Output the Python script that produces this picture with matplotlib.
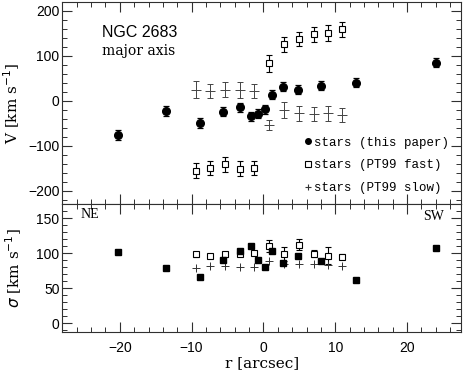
import matplotlib
matplotlib.use("Agg")
import matplotlib.pyplot as plt
from matplotlib.lines import Line2D
from matplotlib.ticker import MultipleLocator

# ---- data: velocity panel ----
r_this = [-20.2, -13.6, -8.8, -5.6, -3.2, -1.7, -0.7, 0.2, 1.2, 2.7, 4.75, 8.0, 12.9, 24.0]
v_this = [-77, -22, -49, -25, -15, -34, -29, -19, 13, 31, 24, 33, 40, 85]
ev_this = [11, 11, 11, 10, 10, 10, 10, 10, 10, 10, 10, 10, 10, 10]

r_pt = [-9.4, -7.4, -5.4, -3.3, -1.3, 0.8, 2.9, 5.0, 7.0, 9.0, 11.0]
v_fast = [-156, -150, -142, -151, -150, 84, 126, 137, 148, 151, 159]
ev_fast = [17, 16, 16, 16, 16, 19, 17, 16, 16, 17, 17]
v_slow = [25, 22, 25, 24, 22, -54, -21, -28, -29, -28, -32]
ev_slow = [18, 16, 16, 17, 16, 12, 18, 16, 16, 17, 16]

# ---- data: dispersion panel ----
s_this = [102, 79, 66, 90, 103, 110, 90, 80, 103, 86, 96, 89, 61, 107]
es_this = [3, 3, 3, 3, 3, 3, 3, 3, 3, 3, 3, 3, 3, 3]
s_fast = [98, 96, 98, 99, 100, 110, 99, 112, 99, 96, 95]
es_fast = [3, 3, 3, 3, 3, 8, 10, 8, 5, 12, 3]
s_slow = [79, 81, 81, 80, 80, 88, 84, 85, 84, 83, 81]
es_slow = [3, 3, 3, 3, 3, 3, 3, 3, 3, 3, 3]

legend_labels = ["stars (this paper)", "stars (PT99 fast)", "stars (PT99 slow)"]

W, H = 463, 374
fig = plt.figure(figsize=(W / 100, H / 100), dpi=100)
left, right = 62.3 / W, 461 / W
top, mid, bot = 1 - 2 / H, 1 - 204 / H, 1 - 332.3 / H
ax1 = fig.add_axes([left, mid, right - left, top - mid])
ax2 = fig.add_axes([left, bot, right - left, mid - bot], sharex=ax1)

tickfam, ticksize = "Liberation Sans", 10
serif = "DejaVu Serif"
frame_col = "#303030"

for ax in (ax1, ax2):
    ax.tick_params(which="both", direction="in", top=True, right=True, color=frame_col)
    ax.tick_params(which="major", length=7, width=0.8)
    ax.tick_params(which="minor", length=3.5, width=0.7)
    ax.tick_params(axis="x", which="major", pad=6)
    ax.tick_params(axis="y", which="major", pad=2)
    for sp in ax.spines.values():
        sp.set_color(frame_col)
        sp.set_linewidth(0.8)
    ax.xaxis.set_major_locator(MultipleLocator(10))
    ax.xaxis.set_minor_locator(MultipleLocator(2))

ax1.set_xlim(-28, 27.5)
ax1.set_ylim(-230, 220)
ax1.yaxis.set_major_locator(MultipleLocator(100))
ax1.yaxis.set_minor_locator(MultipleLocator(20))
ax1.tick_params(labelbottom=False)

ax2.set_ylim(-13, 170)
ax2.yaxis.set_major_locator(MultipleLocator(50))
ax2.yaxis.set_minor_locator(MultipleLocator(10))

for ax in (ax1, ax2):
    for lab in ax.get_xticklabels() + ax.get_yticklabels():
        lab.set_fontfamily(tickfam)
        lab.set_fontsize(ticksize)

# top panel
ax1.errorbar(r_pt, v_slow, yerr=ev_slow, fmt="none", ecolor="#444444",
             elinewidth=0.7, capsize=2.5, capthick=0.7)
ax1.plot(r_pt, v_slow, ls="none", marker="_", ms=7, mew=0.7, color="#444444")
ax1.errorbar(r_pt, v_fast, yerr=ev_fast, fmt="s", ms=5, mfc="white", mec="black", mew=0.8,
             ecolor="black", elinewidth=0.8, capsize=2.5, capthick=0.8)
ax1.errorbar(r_this, v_this, yerr=ev_this, fmt="o", ms=5.5, color="black",
             ecolor="black", elinewidth=0.9, capsize=2.5, capthick=0.9)

# bottom panel
ax2.errorbar(r_pt, s_slow, yerr=es_slow, fmt="+", ms=6, mew=0.7, color="#333333",
             elinewidth=0.7, capsize=0)
ax2.errorbar(r_pt, s_fast, yerr=es_fast, fmt="s", ms=5, mfc="white", mec="black", mew=0.8,
             ecolor="black", elinewidth=0.8, capsize=2.5, capthick=0.8)
ax2.errorbar(r_this, s_this, yerr=es_this, fmt="s", ms=5, color="black",
             ecolor="black", elinewidth=0.8, capsize=0)

# text
ax1.text(0.10, 0.85, "NGC 2683", transform=ax1.transAxes, family="Liberation Sans",
         fontsize=11.5, va="center", ha="left")
ax1.text(0.10, 0.755, "major axis", transform=ax1.transAxes, family=serif,
         fontsize=10, va="center", ha="left")
ax2.text(0.045, 0.92, "NE", transform=ax2.transAxes, family="Liberation Serif", fontsize=10,
         va="center", ha="left")
ax2.text(0.905, 0.90, "SW", transform=ax2.transAxes, family="Liberation Serif", fontsize=10,
         va="center", ha="left")

ax1.set_ylabel(r"V [km s$^{-1}$]", family=serif, fontsize=11, labelpad=4)
ax2.set_ylabel(r"$\sigma$ [km s$^{-1}$]", family=serif, fontsize=11, labelpad=9)
ax2.set_xlabel("r [arcsec]", family=serif, fontsize=11, labelpad=1)
fig.align_ylabels([ax1, ax2])

handles = [
    Line2D([], [], ls="none", marker="o", ms=4, color="black"),
    Line2D([], [], ls="none", marker="s", ms=4, mfc="white", mec="black", mew=0.8),
    Line2D([], [], ls="none", marker="+", ms=5, mew=0.8, color="#333333"),
]
ax1.legend(handles, legend_labels, loc="lower right", bbox_to_anchor=(0.995, 0.0),
           frameon=False, prop=dict(family="Liberation Mono", size=9),
           handlelength=0.6, handletextpad=0.2, labelspacing=0.85, borderpad=0.3)

fig.savefig("out.png", dpi=100)
